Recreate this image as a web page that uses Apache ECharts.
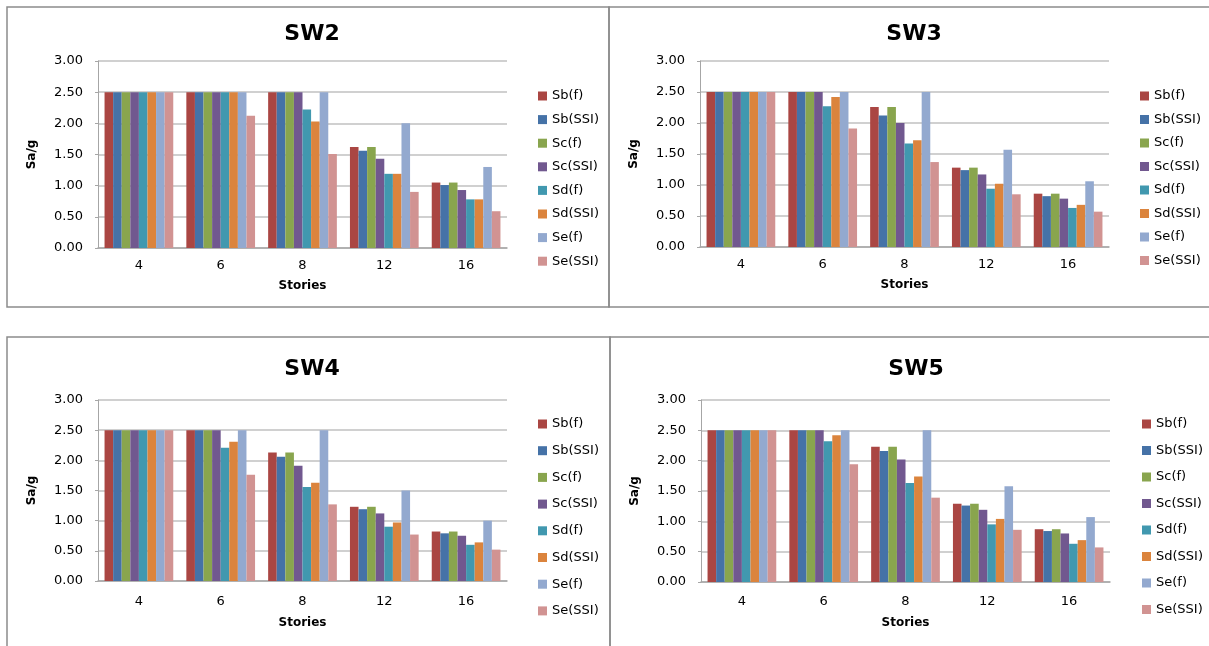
<!DOCTYPE html>
<html>
<head>
<meta charset="utf-8">
<script src="https://cdn.jsdelivr.net/npm/echarts@6/dist/echarts.min.js"></script>
<style>
html,body{margin:0;padding:0;background:#fff;}
#chart{width:1209px;height:646px;}
</style>
</head>
<body>
<div id="chart"></div>
<script>
// ---- data ----
const categories = ['4', '6', '8', '12', '16'];
const seriesNames = ['Sb(f)', 'Sb(SSI)', 'Sc(f)', 'Sc(SSI)', 'Sd(f)', 'Sd(SSI)', 'Se(f)', 'Se(SSI)'];
const panelTitles = ['SW2', 'SW3', 'SW4', 'SW5'];
const yTicks = [0, 0.5, 1, 1.5, 2, 2.5, 3];

// SW2
const SW2_Sbf   = [2.50, 2.50, 2.50, 1.62, 1.05];
const SW2_Sbssi = [2.50, 2.50, 2.50, 1.56, 1.01];
const SW2_Scf   = [2.50, 2.50, 2.50, 1.62, 1.05];
const SW2_Scssi = [2.50, 2.50, 2.50, 1.43, 0.93];
const SW2_Sdf   = [2.50, 2.50, 2.22, 1.19, 0.78];
const SW2_Sdssi = [2.50, 2.50, 2.03, 1.19, 0.78];
const SW2_Sef   = [2.50, 2.50, 2.50, 2.00, 1.30];
const SW2_Sessi = [2.50, 2.12, 1.51, 0.90, 0.59];
// SW3
const SW3_Sbf   = [2.50, 2.50, 2.26, 1.28, 0.86];
const SW3_Sbssi = [2.50, 2.50, 2.12, 1.24, 0.82];
const SW3_Scf   = [2.50, 2.50, 2.26, 1.28, 0.86];
const SW3_Scssi = [2.50, 2.50, 2.00, 1.17, 0.78];
const SW3_Sdf   = [2.50, 2.27, 1.67, 0.94, 0.63];
const SW3_Sdssi = [2.50, 2.42, 1.72, 1.02, 0.68];
const SW3_Sef   = [2.50, 2.50, 2.50, 1.57, 1.06];
const SW3_Sessi = [2.50, 1.91, 1.37, 0.85, 0.57];
// SW4
const SW4_Sbf   = [2.50, 2.50, 2.13, 1.23, 0.82];
const SW4_Sbssi = [2.50, 2.50, 2.06, 1.19, 0.79];
const SW4_Scf   = [2.50, 2.50, 2.13, 1.23, 0.82];
const SW4_Scssi = [2.50, 2.50, 1.91, 1.12, 0.75];
const SW4_Sdf   = [2.50, 2.21, 1.56, 0.90, 0.60];
const SW4_Sdssi = [2.50, 2.31, 1.63, 0.97, 0.64];
const SW4_Sef   = [2.50, 2.50, 2.50, 1.50, 1.00];
const SW4_Sessi = [2.50, 1.76, 1.27, 0.77, 0.52];
// SW5
const SW5_Sbf   = [2.50, 2.50, 2.23, 1.29, 0.87];
const SW5_Sbssi = [2.50, 2.50, 2.16, 1.26, 0.84];
const SW5_Scf   = [2.50, 2.50, 2.23, 1.29, 0.87];
const SW5_Scssi = [2.50, 2.50, 2.02, 1.19, 0.80];
const SW5_Sdf   = [2.50, 2.32, 1.63, 0.95, 0.63];
const SW5_Sdssi = [2.50, 2.42, 1.74, 1.04, 0.69];
const SW5_Sef   = [2.50, 2.50, 2.50, 1.58, 1.07];
const SW5_Sessi = [2.50, 1.94, 1.39, 0.86, 0.57];

const panelData = [
  [SW2_Sbf, SW2_Sbssi, SW2_Scf, SW2_Scssi, SW2_Sdf, SW2_Sdssi, SW2_Sef, SW2_Sessi],
  [SW3_Sbf, SW3_Sbssi, SW3_Scf, SW3_Scssi, SW3_Sdf, SW3_Sdssi, SW3_Sef, SW3_Sessi],
  [SW4_Sbf, SW4_Sbssi, SW4_Scf, SW4_Scssi, SW4_Sdf, SW4_Sdssi, SW4_Sef, SW4_Sessi],
  [SW5_Sbf, SW5_Sbssi, SW5_Scf, SW5_Scssi, SW5_Sdf, SW5_Sdssi, SW5_Sef, SW5_Sessi]
];

// ---- styles / layout ----
const colors = ['#AA4643', '#4572A7', '#89A54E', '#71588F', '#4198AF', '#DB843D', '#93A9CF', '#D19392'];
const FONT = 'DejaVu Sans';
const layout = [
  {grid: {left: 98, top: 61, width: 409, height: 187}, titleX: 307, titleY: 18, legendLeft: 533, legendTop: 84, legendGap: 9.6, ytitleX: 38, xNameGap: 32, xMargin: 11},
  {grid: {left: 700, top: 61, width: 409, height: 186}, titleX: 909, titleY: 18, legendLeft: 1135, legendTop: 84, legendGap: 9.5, ytitleX: 640, xNameGap: 32, xMargin: 11},
  {grid: {left: 98, top: 400, width: 409, height: 181}, titleX: 307, titleY: 353, legendLeft: 533, legendTop: 412, legendGap: 12.7, ytitleX: 38, xNameGap: 36, xMargin: 14},
  {grid: {left: 701, top: 400, width: 409, height: 182}, titleX: 911, titleY: 353, legendLeft: 1137, legendTop: 412, legendGap: 12.5, ytitleX: 641, xNameGap: 35, xMargin: 13}
];

const chart = echarts.init(document.getElementById('chart'));

const grids = [], xAxes = [], yAxes = [], titles = [], legends = [], series = [];
layout.forEach((L, p) => {
  grids.push(Object.assign({containLabel: false}, L.grid));
  titles.push({
    text: panelTitles[p], left: L.titleX, top: L.titleY, textAlign: 'center',
    textStyle: {fontFamily: FONT, fontWeight: 'bold', fontSize: 22, color: '#000'}
  });
  legends.push({
    orient: 'vertical', left: L.legendLeft, top: L.legendTop,
    itemWidth: 9, itemHeight: 9, itemGap: L.legendGap, icon: 'rect',
    data: seriesNames, selectedMode: false,
    textStyle: {fontFamily: FONT, fontSize: 13, color: '#000', lineHeight: 14}
  });
  xAxes.push({
    type: 'category', gridIndex: p, data: categories,
    name: 'Stories', nameLocation: 'middle', nameGap: L.xNameGap,
    nameTextStyle: {fontFamily: FONT, fontWeight: 'bold', fontSize: 12, color: '#000'},
    axisLine: {lineStyle: {color: '#a6a6a6', width: 1.5}},
    axisTick: {show: false},
    axisLabel: {fontFamily: FONT, fontSize: 13, color: '#000', margin: L.xMargin}
  });
  yAxes.push({
    type: 'value', gridIndex: p, min: 0, max: 3, interval: 0.5,
    name: 'Sa/g', nameLocation: 'middle', nameGap: L.grid.left - L.ytitleX,
    nameTextStyle: {fontFamily: FONT, fontWeight: 'bold', fontSize: 12, color: '#000'},
    axisLine: {show: true, lineStyle: {color: '#a6a6a6', width: 1}},
    axisTick: {show: true, length: 3, lineStyle: {color: '#a6a6a6'}},
    splitLine: {show: true, lineStyle: {color: '#c0c0c0', width: 1.5}},
    axisLabel: {fontFamily: FONT, fontSize: 13, color: '#000', margin: 15,
      formatter: v => v.toFixed(2)}
  });
  seriesNames.forEach((name, s) => {
    series.push({
      type: 'bar', name: name, xAxisIndex: p, yAxisIndex: p,
      data: panelData[p][s], barGap: '0%', barCategoryGap: '16%',
      itemStyle: {color: colors[s]},
      emphasis: {disabled: true}
    });
  });
});

const borderStyle = {stroke: '#8c8c8c', lineWidth: 1.5, fill: 'transparent'};
const graphic = [
  {type: 'rect', shape: {x: 7, y: 7, width: 602, height: 300}, style: borderStyle, silent: true, z: -1},
  {type: 'rect', shape: {x: 609, y: 7, width: 620, height: 300}, style: borderStyle, silent: true, z: -1},
  {type: 'rect', shape: {x: 7, y: 337, width: 603, height: 330}, style: borderStyle, silent: true, z: -1},
  {type: 'rect', shape: {x: 610, y: 337, width: 620, height: 330}, style: borderStyle, silent: true, z: -1}
];

chart.setOption({
  animation: false,
  color: colors,
  title: titles,
  legend: legends,
  grid: grids,
  xAxis: xAxes,
  yAxis: yAxes,
  series: series,
  graphic: graphic
});
</script>
</body>
</html>
